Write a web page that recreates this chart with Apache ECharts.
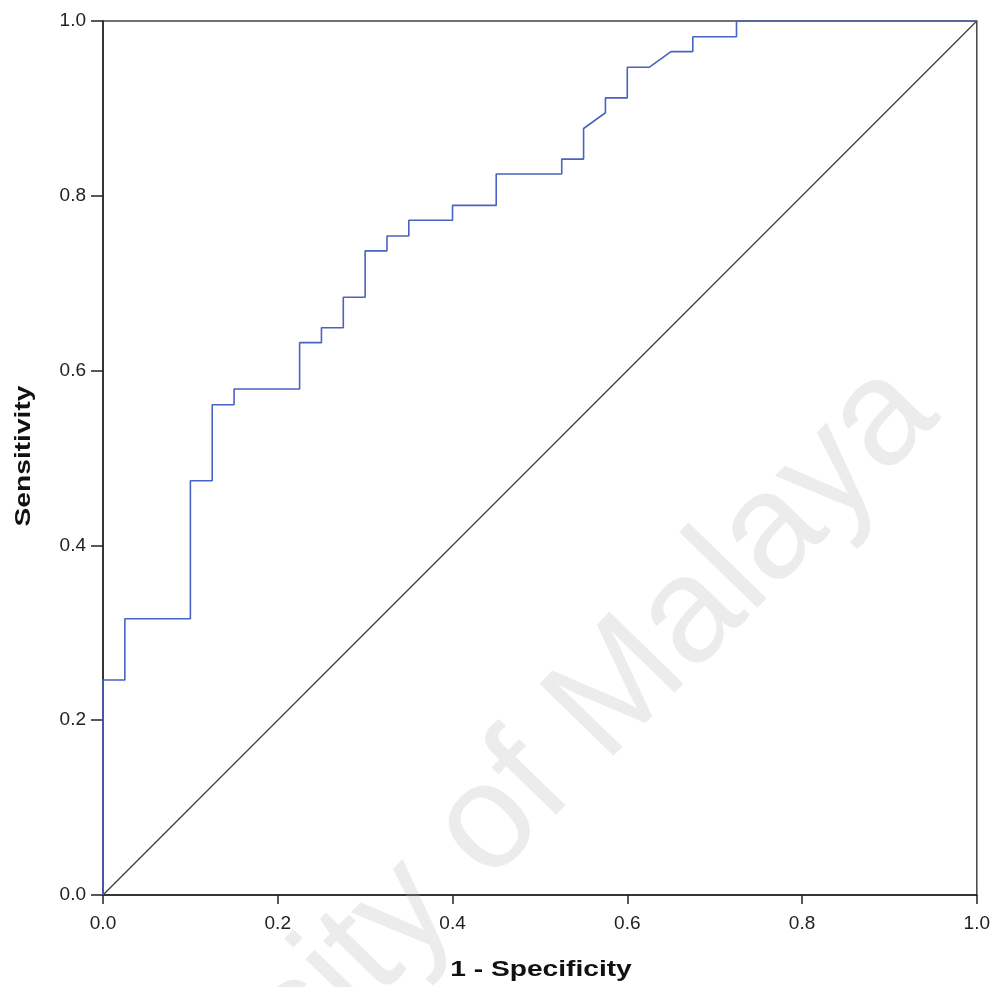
<!DOCTYPE html>
<html>
<head>
<meta charset="utf-8">
<script src="https://cdn.jsdelivr.net/npm/echarts@6/dist/echarts.min.js"></script>
<style>html,body{margin:0;padding:0;background:#fff}#c{width:993px;height:987px}</style>
</head>
<body>
<div id="c"></div>
<script>
// ROC curve points (1 - Specificity, Sensitivity)
var fpr = [0, 0, 0.025, 0.025, 0.1, 0.1, 0.125, 0.125, 0.15, 0.15, 0.225, 0.225, 0.25, 0.25, 0.275, 0.275, 0.3, 0.3, 0.325, 0.325, 0.35, 0.35, 0.4, 0.4, 0.45, 0.45, 0.525, 0.525, 0.55, 0.55, 0.575, 0.575, 0.6, 0.6, 0.625, 0.65, 0.675, 0.675, 0.725, 0.725, 1.0];
var tpr = [0, 0.246, 0.246, 0.316, 0.316, 0.474, 0.474, 0.561, 0.561, 0.579, 0.579, 0.632, 0.632, 0.649, 0.649, 0.684, 0.684, 0.737, 0.737, 0.754, 0.754, 0.772, 0.772, 0.789, 0.789, 0.825, 0.825, 0.842, 0.842, 0.877, 0.895, 0.912, 0.912, 0.947, 0.947, 0.965, 0.965, 0.982, 0.982, 1.0, 1.0];
// Reference (chance) line
var refX = [0, 1];
var refY = [0, 1];
var xTitle = '1 - Specificity';
var yTitle = 'Sensitivity';
var watermark = 'University of Malaya';

var rocData = fpr.map(function (x, i) { return [x, tpr[i]]; });
var refData = refX.map(function (x, i) { return [x, refY[i]]; });

var chart = echarts.init(document.getElementById('c'));
var axisCommon = {
  type: 'value', min: 0, max: 1, interval: 0.2,
  axisLine: { show: true, lineStyle: { color: '#222', width: 1.5 } },
  axisTick: { show: true, inside: false, lineStyle: { color: '#222', width: 1.5 } },
  splitLine: { show: false }
};
var labelStyle = { fontFamily: 'Liberation Sans', fontSize: 19, color: '#222',
  formatter: function (v) { return v.toFixed(1); } };
var titleFont = 'bold 22px "Liberation Sans"';
chart.setOption({
  animation: false,
  backgroundColor: '#fff',
  grid: { left: 103, right: 16, top: 21, bottom: 92, show: true, borderColor: '#444', borderWidth: 1.5 },
  graphic: [
    { type: 'text', x: 966, y: 441, rotation: 0.80, z: 0, silent: true,
      style: { text: watermark, font: '150px "Liberation Sans"', fill: '#ececec', textAlign: 'right', textVerticalAlign: 'bottom' } },
    { type: 'text', x: 541, y: 970, scaleX: 1.28, z: 10, silent: true,
      style: { text: xTitle, font: titleFont, fill: '#111', textAlign: 'center', textVerticalAlign: 'middle' } },
    { type: 'text', x: 24, y: 456, rotation: Math.PI / 2, scaleX: 1.28, z: 10, silent: true,
      style: { text: yTitle, font: titleFont, fill: '#111', textAlign: 'center', textVerticalAlign: 'middle' } }
  ],
  xAxis: Object.assign({}, axisCommon, {
    axisTick: Object.assign({}, axisCommon.axisTick, { length: 9 }),
    axisLabel: Object.assign({}, labelStyle, { margin: 19 })
  }),
  yAxis: Object.assign({}, axisCommon, {
    axisTick: Object.assign({}, axisCommon.axisTick, { length: 12 }),
    axisLabel: Object.assign({}, labelStyle, { margin: 17 })
  }),
  series: [
    { type: 'line', data: refData, symbol: 'none', z: 3,
      lineStyle: { color: '#3a3a3a', width: 1.2 } },
    { type: 'line', data: rocData, symbol: 'none', z: 4,
      lineStyle: { color: '#4a62c2', width: 1.6 } }
  ]
});
</script>
</body>
</html>
